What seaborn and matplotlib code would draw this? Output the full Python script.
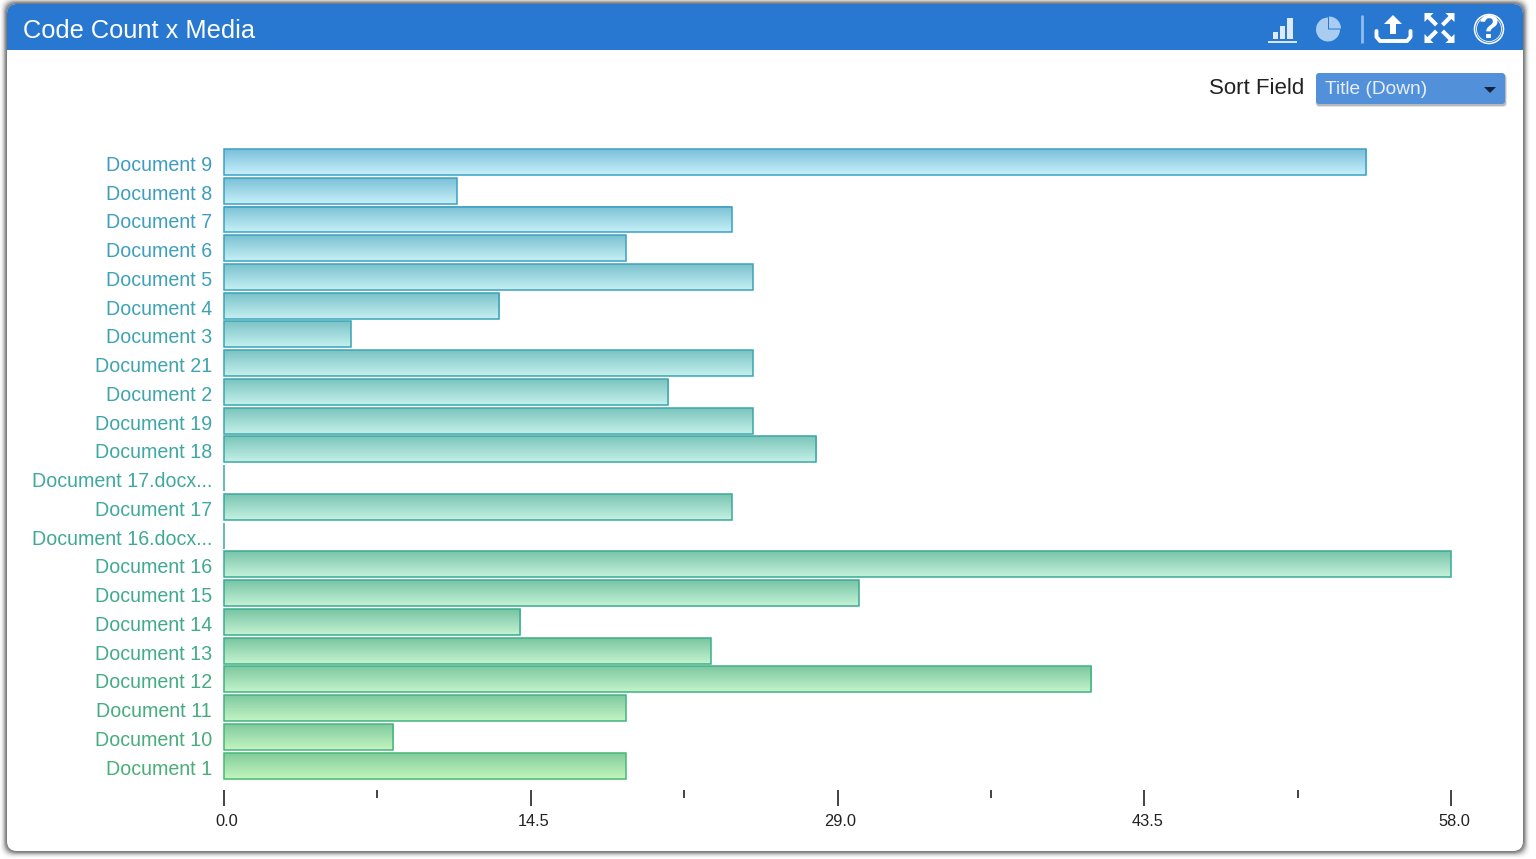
import numpy as np
import pandas as pd
import matplotlib
matplotlib.use("Agg")
import matplotlib.pyplot as plt
import seaborn as sns
from matplotlib.colors import LinearSegmentedColormap
from matplotlib.patches import FancyBboxPatch, Rectangle, Wedge, Circle, Polygon
from matplotlib.transforms import ScaledTranslation

# ─── Data ─────────────────────────────────────────────────
titles = ["Document 9", "Document 8", "Document 7", "Document 6", "Document 5",
          "Document 4", "Document 3", "Document 21", "Document 2", "Document 19",
          "Document 18", "Document 17.docx...", "Document 17", "Document 16.docx...",
          "Document 16", "Document 15", "Document 14", "Document 13", "Document 12",
          "Document 11", "Document 10", "Document 1"]
counts = [54, 11, 24, 19, 25, 13, 6, 25, 21, 25, 28, 0, 24, 0, 58, 30, 14, 23, 41, 19, 8, 19]
major_ticks = [0.0, 14.5, 29.0, 43.5, 58.0]
minor_ticks = [7.25, 21.75, 36.25, 50.75]

# ─── Style ────────────────────────────────────────────────
W, H = 1536, 859
HEADER = "#2878d2"
sns.set_theme(style="white")
plt.rcParams["font.family"] = ["Liberation Sans", "DejaVu Sans"]

n = len(titles)
edge_pal = sns.blend_palette(["#3aa0c6", "#3aa3b8", "#3aa8a4", "#3aac8e", "#47b878"], n)
text_pal = sns.blend_palette(["#3e9cc2", "#3ea2b4", "#3fa8a2", "#40aa8c", "#4aae78"], n)
top_pal = sns.blend_palette(["#7cc0da", "#7cc2ca", "#7cc6b8", "#78c4a4", "#84cc9c"], n)
bottom_pal = sns.blend_palette(["#c6f0fb", "#c4f0f0", "#c4f0e6", "#c4f2d4", "#c2f5bc"], n)

fig = plt.figure(figsize=(W / 100, H / 100), dpi=100, facecolor="white")

# ─── Panel chrome, in pixel coordinates ───────────────────
bg = fig.add_axes([0, 0, 1, 1], zorder=0)
bg.set_xlim(0, W)
bg.set_ylim(H, 0)
bg.axis("off")


def card(x0, y0, x1, y1, r, **kw):
    p = FancyBboxPatch((x0 + r, y0 + r), x1 - x0 - 2 * r, y1 - y0 - 2 * r,
                       boxstyle=f"round,pad={r},rounding_size={r}", linewidth=0, **kw)
    bg.add_patch(p)
    return p


# soft shadow around the panel
for grow, alpha in [(7, 0.03), (6, 0.06), (5, 0.10), (4, 0.18), (3, 0.30), (2, 0.42), (1, 0.50)]:
    card(7 - grow, 4 - grow, 1523 + grow, 851 + grow, 12, facecolor="#6a6a6a", alpha=alpha)
card(7, 4, 1523, 851, 10, facecolor="white")
header = card(7, 4, 1523, 70, 10, facecolor=HEADER)
header.set_clip_path(Rectangle((0, 0), W, 49.5, transform=bg.transData))

bg.text(23, 31, "Code Count x Media", color="white", fontsize=18.3, va="center", ha="left")
bg.text(1304, 88, "Sort Field", color="#222222", fontsize=16, va="center", ha="right")

# dropdown
card(1316, 75, 1507, 107, 4, facecolor="#666666", alpha=0.18)
card(1316, 74, 1506, 106, 3, facecolor="#555555", alpha=0.3)
card(1316, 73, 1505, 104, 3, facecolor="#5291da")
bg.text(1325, 90, "Title (Down)", color="#e6effa", fontsize=13.8, va="center", ha="left")
bg.add_patch(Polygon([(1484, 87), (1496, 87), (1490, 93)], closed=True, facecolor="#14233a", lw=0))

# header icons: bars
for x0, x1, y0 in [(1273, 1278, 32), (1280, 1285, 26), (1287, 1293, 18)]:
    bg.add_patch(Rectangle((x0, y0), x1 - x0, 39 - y0, facecolor="#dbe9f8", lw=0))
bg.plot([1268, 1297], [41.5, 41.5], color="#dbe9f8", lw=1.4, solid_capstyle="butt")

# pie
PIE = "#a9cdf1"
bg.add_patch(Wedge((1328, 29.5), 12, 0, 270, facecolor=PIE, lw=0))
bg.add_patch(Wedge((1329, 28.5), 12, 270, 360, facecolor=PIE, lw=0))
bg.plot([1361.5, 1361.5], [15, 43], color="#8fbdec", lw=2, solid_capstyle="butt")

# upload
bg.plot([1376.5, 1376.5, 1380, 1407, 1410.5, 1410.5], [31, 37, 41, 41, 37, 31],
        color="white", lw=2.8, solid_joinstyle="round")
bg.add_patch(Polygon([(1393, 15), (1402, 24), (1396, 24), (1396, 34), (1390, 34),
                      (1390, 24), (1384, 24)], closed=True, facecolor="white", lw=0))

# expand
for sx, sy in [(-1, -1), (1, -1), (-1, 1), (1, 1)]:
    cx, cy = 1439.5, 28
    tip = (cx + 15 * sx, cy + 15 * sy)
    bg.plot([cx + 3 * sx, cx + 13 * sx], [cy + 3 * sy, cy + 13 * sy], color="white", lw=3,
            solid_capstyle="butt")
    bg.add_patch(Polygon([tip, (tip[0] - 9 * sx, tip[1]), (tip[0], tip[1] - 9 * sy)],
                         closed=True, facecolor="white", lw=0))

# help
bg.add_patch(Circle((1489, 29), 14.5, facecolor="none", edgecolor="white", lw=1.1))
bg.add_patch(Circle((1489, 29), 12.5, facecolor="none", edgecolor="white", lw=0.6))
bg.text(1489, 30, "?", color="white", fontsize=24, fontweight="bold", ha="center", va="center")

# ─── Bars ─────────────────────────────────────────────────
ax_left, ax_right, ax_top, ax_bottom = 224, 1451, 147.6, 790
ax = fig.add_axes([ax_left / W, 1 - ax_bottom / H, (ax_right - ax_left) / W, (ax_bottom - ax_top) / H],
                  zorder=1)
ax.patch.set_alpha(0)

df = pd.DataFrame({"title": titles, "count": counts})
sns.barplot(data=df, x="count", y="title", hue="title", palette=edge_pal, order=titles,
            hue_order=titles, legend=False, width=0.9, saturation=1, ax=ax)

ax.set_xlim(0, major_ticks[-1])
ax.set_ylim(21.85, -0.5)

for i, patch in enumerate(ax.patches):
    x0, y0, w, h = patch.get_x(), patch.get_y(), patch.get_width(), patch.get_height()
    patch.set_facecolor("none")
    patch.set_edgecolor(edge_pal[i])
    patch.set_linewidth(1.1)
    patch.set_zorder(3)
    patch.set_clip_on(False)
    if w > 0:
        cmap = LinearSegmentedColormap.from_list(f"bar{i}", [top_pal[i], bottom_pal[i]])
        ax.imshow(np.linspace(0, 1, 32).reshape(-1, 1), cmap=cmap, aspect="auto",
                  extent=(x0, x0 + w, y0 + h, y0), zorder=2, interpolation="bilinear")

ax.set_xlim(0, major_ticks[-1])
ax.set_ylim(21.85, -0.5)
ax.set_xlabel("")
ax.set_ylabel("")
sns.despine(ax=ax, left=True, bottom=True, top=True, right=True)

# ─── Axes ticks ───────────────────────────────────────────
ax.tick_params(axis="y", length=0, pad=8.6, labelsize=14.15)
down = ScaledTranslation(0, -1.5 / 100, fig.dpi_scale_trans)
for label, color in zip(ax.get_yticklabels(), text_pal):
    label.set_color(color)
    label.set_transform(label.get_transform() + down)

ax.set_xticks(major_ticks)
ax.set_xticklabels([f"{t:.1f}" for t in major_ticks])
ax.set_xticks(minor_ticks, minor=True)
ax.tick_params(axis="x", which="major", direction="out", length=11.5, width=1.1, color="#111111",
               pad=6, labelsize=11.8, labelcolor="#222222", bottom=True)
ax.tick_params(axis="x", which="minor", direction="out", length=5.8, width=1.1, color="#111111",
               bottom=True)
shift = ScaledTranslation(3 / 100, 0, fig.dpi_scale_trans)
for label in ax.get_xticklabels():
    label.set_transform(label.get_transform() + shift)

fig.savefig("out.png", dpi=100)
